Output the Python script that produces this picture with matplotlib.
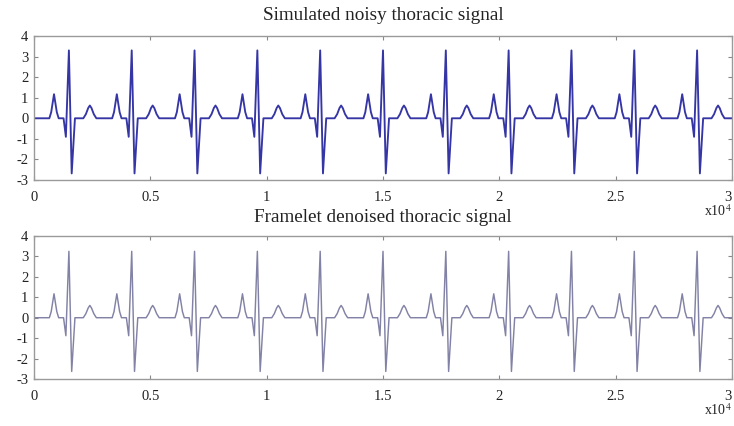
import numpy as np
import matplotlib
matplotlib.use("Agg")
import matplotlib.pyplot as plt

plt.rcParams['font.family'] = ['Liberation Serif', 'DejaVu Serif']
plt.rcParams['mathtext.fontset'] = 'stix'
plt.rcParams['axes.unicode_minus'] = False

# R-peak sample positions
r_peaks = [1500, 4200, 6900, 9600, 12300, 15000, 17700, 20400, 23100, 25800, 28500]
# beat vertices relative to each R peak (samples)
beat_offsets = [-840, -760, -690, -640, -590, -520, -440, -230, -130, 0, 120, 260,
                620, 730, 830, 900, 970, 1070, 1180]
# amplitudes at those vertices
noisy_amps = [0.0, 0.3, 0.8, 1.17, 0.8, 0.3, 0.0, 0.0, -0.9, 3.3, -2.68, 0.0,
              0.0, 0.2, 0.5, 0.62, 0.5, 0.2, 0.0]
denoised_amps = [0.0, 0.3, 0.8, 1.17, 0.8, 0.3, 0.0, 0.0, -0.88, 3.25, -2.63, 0.0,
                 0.0, 0.2, 0.48, 0.6, 0.48, 0.2, 0.0]
x_ticks = [0, 5000, 10000, 15000, 20000, 25000, 30000]
x_tick_labels = ['0', '0.5', '1', '1.5', '2', '2.5', '3']
y_ticks = [-3, -2, -1, 0, 1, 2, 3, 4]
titles = ['Simulated noisy thoracic signal', 'Framelet denoised thoracic signal']


def build(amps):
    xs, ys = [0], [0.0]
    for r in r_peaks:
        for o, a in zip(beat_offsets, amps):
            xs.append(r + o)
            ys.append(a)
    xs.append(30000)
    ys.append(0.0)
    return np.array(xs), np.array(ys)


fig = plt.figure(figsize=(7.34, 4.26), dpi=100)
W, H = 734, 426
boxes = [(34, 36, 732, 180), (34, 236, 732, 379)]
series = [build(noisy_amps), build(denoised_amps)]
styles = [dict(color='#3535a5', lw=1.35), dict(color='#8282a6', lw=1.05)]

for i, (l, t, r, b) in enumerate(boxes):
    ax = fig.add_axes([l / W, 1 - b / H, (r - l) / W, (b - t) / H])
    xs, ys = series[i]
    ax.plot(xs, ys, **styles[i])
    ax.set_xlim(0, 30000)
    ax.set_ylim(-3, 4)
    ax.set_xticks(x_ticks)
    ax.set_xticklabels(x_tick_labels)
    ax.set_yticks(y_ticks)
    ax.tick_params(direction='in', length=3, width=0.8, color='#888888',
                   labelsize=10.5, labelcolor='#222222', top=True, right=True)
    ax.tick_params(axis='x', pad=8)
    ax.tick_params(axis='y', pad=4)
    ax.get_xticklabels()[-1].set_horizontalalignment('right')
    for s in ax.spines.values():
        s.set_color('#9a9a9a')
        s.set_linewidth(1.0)
    hpx = b - t
    ax.text(1.0, -31 / hpx, r'x10$^{4}$', transform=ax.transAxes, ha='right',
            va='center', fontsize=10, color='#222222')
    ax.text(0.5, 1 + (20 if i == 0 else 19) / hpx, titles[i], transform=ax.transAxes,
            ha='center', va='center', fontsize=13.8, color='#222222')

fig.savefig('out.png', dpi=100)
